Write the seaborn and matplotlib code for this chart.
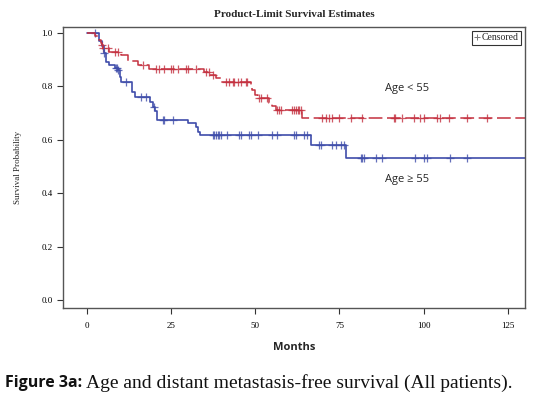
import numpy as np
import pandas as pd
import matplotlib
matplotlib.use('Agg')
import matplotlib.pyplot as plt
from matplotlib.lines import Line2D
import seaborn as sns

# Kaplan-Meier step points (months, survival)
young_times = [0, 2.4, 3.8, 4.2, 4.6, 5.0, 6.7, 10.2, 12.2, 15.2, 18.6, 34.9, 36.7, 38.4, 39.8,
               48.7, 49.2, 50.1, 50.7, 54.1, 55.0, 56.1, 64.0]
young_surv = [1.0, 0.99, 0.974, 0.961, 0.955, 0.943, 0.93, 0.918, 0.893, 0.880, 0.864, 0.855, 0.843, 0.83, 0.818,
              0.805, 0.787, 0.768, 0.755, 0.737, 0.725, 0.712, 0.68]
young_censored = [4.6, 5.0, 6.3, 8.3, 9.3, 16.7, 20.6, 21.6, 23.1, 25.1, 25.5, 27.0, 29.5, 30.0, 32.5,
                  35.4, 36.4, 37.4, 41.3, 42.3, 43.3, 43.8, 44.8, 45.8, 47.2, 47.7, 51.2, 51.7, 53.6,
                  56.6, 57.1, 57.6, 61.0, 61.5, 62.0, 62.6, 63.1, 63.6,
                  69.9, 70.9, 71.9, 72.9, 74.9, 78.3, 81.8, 91.1, 91.6, 93.6, 97.0, 99.0, 100.0,
                  103.9, 104.9, 107.4, 112.8, 118.7]

old_times = [0, 3.8, 4.5, 5.2, 5.8, 6.8, 8.3, 9.2, 9.8, 10.3, 13.6, 14.4, 18.9, 19.6, 20.2, 21.0,
             30.0, 32.6, 33.0, 33.6, 66.5, 76.8]
old_surv = [1.0, 0.97, 0.95, 0.925, 0.89, 0.88, 0.87, 0.86, 0.836, 0.818, 0.78, 0.76, 0.743, 0.724, 0.706, 0.674,
            0.662, 0.649, 0.63, 0.618, 0.58, 0.532]
old_censored = [2.4, 5.3, 8.7, 9.0, 9.3, 11.7, 16.2, 17.7, 20.0, 22.6, 23.1, 25.6,
                37.4, 37.9, 38.4, 38.9, 39.4, 39.9, 41.8, 45.3, 45.8, 48.2, 48.7, 50.7, 55.1, 56.6,
                61.5, 62.0, 64.5, 65.5, 68.9, 69.4, 72.9, 73.9, 75.4, 76.3,
                81.3, 81.8, 82.2, 85.7, 87.7, 97.5, 100.0, 101.0, 107.9, 112.8]

followup_end = 130
red = '#C4303F'
blue = '#3F4DAA'


def km_frame(times, surv):
    df = pd.DataFrame({'Months': times + [followup_end], 'Survival': surv + [surv[-1]]})
    return df


def censor_frame(times, surv, cens):
    idx = np.searchsorted(np.array(times), np.array(cens), side='right') - 1
    return pd.DataFrame({'Months': cens, 'Survival': np.array(surv)[idx]})


sns.set_style('white')
fig = plt.figure(figsize=(5.33, 3.97), dpi=100)
ax = fig.add_axes([0.118, 0.224, 0.867, 0.708])

sns.lineplot(data=km_frame(old_times, old_surv), x='Months', y='Survival', ax=ax,
             color=blue, lw=1.2, drawstyle='steps-post', estimator=None, sort=False)
sns.lineplot(data=km_frame(young_times, young_surv), x='Months', y='Survival', ax=ax,
             color=red, lw=1.1, drawstyle='steps-post', estimator=None, sort=False)
ax.lines[-1].set_dashes([9, 3])

sns.scatterplot(data=censor_frame(old_times, old_surv, old_censored), x='Months', y='Survival',
                ax=ax, marker='+', color=blue, s=35, linewidth=0.9, alpha=0.8)
sns.scatterplot(data=censor_frame(young_times, young_surv, young_censored), x='Months', y='Survival',
                ax=ax, marker='+', color=red, s=35, linewidth=0.9, alpha=0.8)

ax.set_xlim(-7, 130)
ax.set_ylim(-0.03, 1.022)
ax.set_xticks([0, 25, 50, 75, 100, 125])
ax.set_yticks([0.0, 0.2, 0.4, 0.6, 0.8, 1.0])
ax.set_yticklabels([f'{v:.1f}' for v in [0.0, 0.2, 0.4, 0.6, 0.8, 1.0]])
ax.tick_params(axis='both', which='both', direction='out', length=4, width=0.8,
               labelsize=6.5, colors='#333333', left=True, bottom=True)
ax.tick_params(axis='x', pad=6)
for lab in ax.get_xticklabels() + ax.get_yticklabels():
    lab.set_fontfamily('Liberation Serif')
    lab.set_color('black')
for sp in ax.spines.values():
    sp.set_color('#555555')
    sp.set_linewidth(1.0)

ax.set_xlabel('Months', fontsize=8, fontweight='bold', family='Open Sans', labelpad=9)
ax.set_ylabel('Survival Probability', fontsize=6.5, family='Liberation Serif', labelpad=14)
ax.set_title('Product-Limit Survival Estimates', fontsize=8, fontweight='bold',
             family='Liberation Serif', pad=7)

ax.text(95, 0.79, 'Age < 55', fontsize=8, family='Open Sans', ha='center', va='center')
ax.text(95, 0.45, 'Age ≥ 55', fontsize=8, family='Open Sans', ha='center', va='center')

handle = Line2D([], [], marker='+', color='#777777', linestyle='none', markersize=5, markeredgewidth=0.7)
leg = ax.legend([handle], ['Censored'], loc='upper right', frameon=True, fancybox=False,
                handlelength=0.6, handletextpad=0.2, borderpad=0.25, borderaxespad=0.4,
                prop={'family': 'Liberation Serif', 'size': 7})
leg.get_frame().set_edgecolor('black')
leg.get_frame().set_linewidth(0.8)

# caption: bold sans label followed by serif text
cap_y = 0.024
lbl = fig.text(0.010, cap_y, 'Figure 3a:', fontsize=11.5, fontweight='bold', family='Open Sans',
               ha='left', va='baseline', color='#111111')
fig.canvas.draw()
bb = lbl.get_window_extent()
x_rest = (bb.x1 + 4) / fig.bbox.width
fig.text(x_rest, cap_y, 'Age and distant metastasis-free survival (All patients).', fontsize=14,
         family='Liberation Serif', ha='left', va='baseline', color='#111111')

fig.savefig('out.png', dpi=100)
